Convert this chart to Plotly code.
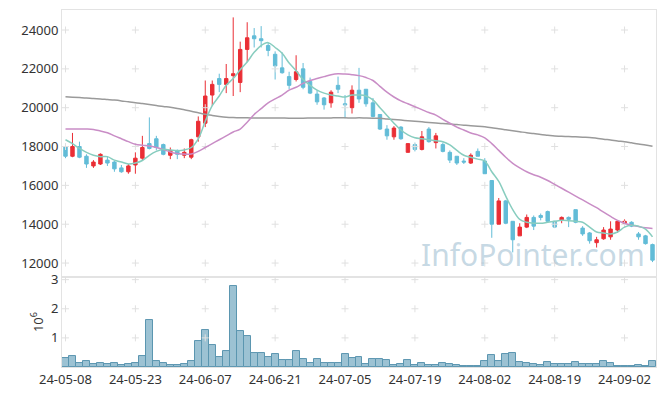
import plotly.graph_objects as go
from plotly.subplots import make_subplots

dates = [
    "2024-05-08", "2024-05-09", "2024-05-10", "2024-05-13", "2024-05-14", "2024-05-16", "2024-05-17",
    "2024-05-20", "2024-05-21", "2024-05-22", "2024-05-23", "2024-05-24", "2024-05-27", "2024-05-28",
    "2024-05-29", "2024-05-30", "2024-05-31", "2024-06-03", "2024-06-04", "2024-06-05", "2024-06-07",
    "2024-06-10", "2024-06-11", "2024-06-12", "2024-06-13", "2024-06-14", "2024-06-17", "2024-06-18",
    "2024-06-19", "2024-06-20", "2024-06-21", "2024-06-24", "2024-06-25", "2024-06-26", "2024-06-27",
    "2024-06-28", "2024-07-01", "2024-07-02", "2024-07-03", "2024-07-04", "2024-07-05", "2024-07-08",
    "2024-07-09", "2024-07-10", "2024-07-11", "2024-07-12", "2024-07-15", "2024-07-16", "2024-07-17",
    "2024-07-18", "2024-07-19", "2024-07-22", "2024-07-23", "2024-07-24", "2024-07-25", "2024-07-26",
    "2024-07-29", "2024-07-30", "2024-07-31", "2024-08-01", "2024-08-02", "2024-08-05", "2024-08-06",
    "2024-08-07", "2024-08-08", "2024-08-09", "2024-08-12", "2024-08-13", "2024-08-14", "2024-08-16",
    "2024-08-19", "2024-08-20", "2024-08-21", "2024-08-22", "2024-08-23", "2024-08-26", "2024-08-27",
    "2024-08-28", "2024-08-29", "2024-08-30", "2024-09-02", "2024-09-03", "2024-09-04", "2024-09-05",
    "2024-09-06",
]

open_ = [18000, 17500, 18000, 17500, 17000, 17100, 17300, 17200, 16900, 16700,
         17050, 17400, 18150, 18400, 18100, 17550, 17800, 17550, 17450, 18500,
         19200, 20650, 21500, 21200, 21650, 21300, 23000, 23700, 23550, 23200,
         22750, 22050, 21600, 21450, 22000, 21350, 20700, 20500, 20250, 21150,
         20200, 20000, 20900, 20950, 20250, 19650, 18900, 18500, 19000, 17700,
         18100, 17850, 18900, 18200, 18100, 17700, 17500, 17250, 17150, 17750,
         17250, 16250, 14000, 15200, 14150, 13400, 13850, 14350, 14450, 14650,
         14150, 14200, 14350, 14750, 13800, 13550, 13050, 13250, 13350, 13700,
         14050, 14100, 13500, 13400, 12950]
high = [18150, 18700, 18250, 17600, 17300, 17650, 17500, 17250, 17050, 17100,
        17700, 18550, 19500, 18550, 18150, 17950, 17850, 17900, 18400, 19550,
        21400, 21400, 21750, 22250, 24650, 23400, 24400, 24100, 24200, 23350,
        22900, 22850, 21850, 22700, 22300, 21550, 20900, 20550, 20900, 21600,
        20650, 21150, 22050, 20950, 20500, 19650, 19100, 19050, 19050, 18150,
        18200, 18800, 19000, 18700, 18200, 17800, 17500, 17400, 17650, 17900,
        17400, 16250, 15350, 15250, 14150, 14050, 14500, 14450, 14550, 14700,
        14150, 14400, 14400, 14750, 13900, 13600, 13350, 13850, 14150, 14200,
        14250, 14150, 13600, 13450, 13000]
low = [17400, 17450, 17400, 16900, 16900, 17050, 17000, 16700, 16650, 16600,
       16600, 17300, 17850, 17800, 17550, 17350, 17350, 17400, 17350, 18250,
       19000, 20100, 20800, 20750, 20600, 20800, 22350, 23100, 23100, 22650,
       21450, 21750, 20950, 21350, 20950, 20700, 20150, 19900, 20000, 20750,
       19450, 19700, 20250, 20050, 19500, 18850, 18350, 18350, 18350, 17700,
       17750, 17800, 18200, 17900, 17700, 17150, 17050, 17100, 17100, 17500,
       16600, 13300, 14000, 14000, 12550, 13400, 13800, 13700, 14200, 14100,
       13800, 14050, 13850, 14050, 13400, 13000, 12800, 13200, 13200, 13550,
       14000, 13850, 13200, 12950, 12050]
close = [17500, 18000, 17450, 17100, 17200, 17600, 17150, 16850, 16700, 17000,
         17400, 17950, 17900, 17950, 17600, 17800, 17600, 17700, 18350, 19300,
         20600, 21200, 21200, 21500, 21750, 23000, 23600, 23550, 23450, 22950,
         22150, 21800, 21150, 21850, 21050, 20750, 20300, 20150, 20800, 20950,
         20150, 20900, 20450, 20200, 19550, 18900, 18550, 18950, 18400, 18150,
         17850, 18500, 18250, 18550, 17750, 17300, 17150, 17200, 17550, 17500,
         16600, 14000, 15200, 14050, 13200, 13850, 14350, 13900, 14350, 14150,
         13850, 14350, 14250, 14100, 13500, 13150, 13200, 13700, 13750, 14150,
         14150, 13900, 13350, 13000, 12150]

ma5 = [18350, 18150, 17900, 17700, 17550, 17480, 17480, 17300, 17200, 17100,
       17150, 17280, 17550, 17750, 17860, 17820, 17780, 17820, 17950, 18400,
       19300, 20100, 20600, 21150, 21500, 21950, 22350, 22850, 23200, 23350,
       23100, 22800, 22300, 21900, 21450, 21150, 20900, 20750, 20650, 20600,
       20550, 20650, 20650, 20600, 20400, 20000, 19600, 19200, 18850, 18600,
       18450, 18400, 18350, 18300, 18250, 18080, 17800, 17550, 17450, 17350,
       17250, 16700, 16200, 15450, 14750, 14250, 14100, 14050, 14050, 14100,
       14150, 14200, 14180, 14150, 14100, 13850, 13600, 13550, 13500, 13600,
       13850, 13950, 13900, 13750, 13350]
ma20 = [18900, 18900, 18900, 18900, 18880, 18800, 18710, 18550, 18400, 18250,
        18120, 18070, 18030, 17950, 17850, 17720, 17640, 17610, 17620, 17750,
        17950, 18150, 18350, 18550, 18750, 18900, 19250, 19650, 19950, 20250,
        20450, 20650, 20900, 21050, 21250, 21400, 21500, 21600, 21700, 21750,
        21730, 21700, 21650, 21550, 21400, 21100, 20800, 20550, 20350, 20200,
        20050, 19900, 19750, 19620, 19400, 19200, 19000, 18850, 18700, 18600,
        18450, 18150, 17800, 17450, 17130, 16900, 16700, 16550, 16420, 16250,
        16050, 15850, 15650, 15450, 15250, 15050, 14850, 14620, 14400, 14200,
        14050, 13950, 13880, 13820, 13780]
ma120 = [20560, 20540, 20520, 20500, 20470, 20450, 20420, 20390, 20350, 20300,
         20260, 20210, 20160, 20110, 20060, 20020, 19960, 19890, 19820, 19740,
         19660, 19600, 19550, 19510, 19490, 19480, 19480, 19470, 19470, 19470,
         19470, 19465, 19460, 19460, 19460, 19465, 19470, 19470, 19475, 19480,
         19480, 19470, 19480, 19470, 19460, 19450, 19420, 19390, 19360, 19330,
         19300, 19270, 19240, 19210, 19180, 19160, 19130, 19100, 19070, 19050,
         19020, 18970, 18910, 18860, 18810, 18760, 18710, 18670, 18620, 18580,
         18540, 18530, 18510, 18500, 18480, 18470, 18430, 18380, 18340, 18290,
         18250, 18190, 18130, 18080, 18020]

volume = [300000, 370000, 150000, 190000, 110000, 150000, 110000, 150000, 80000, 110000,
          150000, 370000, 1600000, 190000, 150000, 80000, 60000, 110000, 220000, 880000,
          1260000, 740000, 330000, 560000, 2770000, 1220000, 1050000, 470000, 490000, 330000,
          460000, 230000, 230000, 560000, 260000, 130000, 260000, 150000, 150000, 150000,
          460000, 300000, 330000, 110000, 290000, 290000, 250000, 80000, 110000, 250000,
          60000, 150000, 80000, 80000, 150000, 110000, 80000, 50000, 50000, 50000,
          220000, 420000, 220000, 460000, 490000, 180000, 150000, 110000, 80000, 180000,
          110000, 110000, 110000, 180000, 110000, 110000, 110000, 220000, 150000, 50000,
          50000, 50000, 80000, 50000, 220000]

price_ticks = [12000, 14000, 16000, 18000, 20000, 22000, 24000]
vol_ticks = [1, 2, 3]
date_ticks = dates[::10]
date_tick_text = [d[2:] for d in date_ticks]

RED = "#ea2e35"
BLUE = "#62bcd7"
FRAME = "#e3e3e3"
FONT = "Noto Sans"
TXT = "#333333"

fig = make_subplots(rows=2, cols=1, shared_xaxes=True, vertical_spacing=0,
                    row_heights=[0.748, 0.252])

fig.add_trace(go.Candlestick(
    x=dates, open=open_, high=high, low=low, close=close,
    increasing=dict(line=dict(color=RED, width=1), fillcolor=RED),
    decreasing=dict(line=dict(color=BLUE, width=1), fillcolor=BLUE),
    whiskerwidth=0, showlegend=False), row=1, col=1)

fig.add_trace(go.Bar(x=dates, y=[v / 1e6 for v in volume], showlegend=False,
                     marker=dict(color="#9cc2d3", line=dict(color="#5b96b0", width=1))),
              row=2, col=1)

# grid "+" marks at tick intersections
gx, gy = [], []
for d in date_ticks:
    for p in price_ticks:
        gx.append(d); gy.append(p)
fig.add_trace(go.Scatter(x=gx, y=gy, mode="markers", hoverinfo="skip", showlegend=False,
                         marker=dict(symbol="cross-thin", size=5,
                                     line=dict(color="#e0e0e0", width=1))), row=1, col=1)
vx, vy = [], []
for d in date_ticks:
    for v in vol_ticks:
        vx.append(d); vy.append(v)
fig.add_trace(go.Scatter(x=vx, y=vy, mode="markers", hoverinfo="skip", showlegend=False,
                         marker=dict(symbol="cross-thin", size=5,
                                     line=dict(color="#e0e0e0", width=1))), row=2, col=1)

fig.add_trace(go.Scatter(x=dates, y=ma120, mode="lines", showlegend=False,
                         line=dict(color="#9a9a9a", width=1.5, shape="spline")), row=1, col=1)
fig.add_trace(go.Scatter(x=dates, y=ma20, mode="lines", showlegend=False,
                         line=dict(color="#c98dc6", width=1.5, shape="spline")), row=1, col=1)
fig.add_trace(go.Scatter(x=dates, y=ma5, mode="lines", showlegend=False,
                         line=dict(color="#88cdbf", width=1.5, shape="spline")), row=1, col=1)

# the page body adds an 8px margin, so the figure is sized to fit inside it
fig.update_layout(
    width=649, height=380,
    margin=dict(l=54, r=1, t=2, b=21, autoexpand=False),
    paper_bgcolor="white", plot_bgcolor="white",
    font=dict(family=FONT, size=13, color=TXT),
    bargap=0, boxgap=0.3,
    showlegend=False,
)
fig.update_xaxes(type="category", categoryorder="array", categoryarray=dates,
                 range=[-0.5, 84.5], showgrid=False, zeroline=False, automargin=False,
                 showline=True, mirror=True, linecolor=FRAME, linewidth=1,
                 rangeslider_visible=False, ticks="")
fig.update_xaxes(showticklabels=False, row=1, col=1)
fig.update_xaxes(tickmode="array", tickvals=date_ticks, ticktext=date_tick_text, tickangle=0,
                 tickfont=dict(size=13, color=TXT), row=2, col=1)
fig.update_yaxes(range=[11280, 25030], tickmode="array", tickvals=price_ticks, tickformat="d",
                 showgrid=False, zeroline=False, showline=True, mirror=True, automargin=False,
                 linecolor=FRAME, ticks="", tickfont=dict(size=13, color=TXT),
                 row=1, col=1)
fig.update_yaxes(range=[0, 3.09], tickmode="array", tickvals=vol_ticks,
                 showgrid=False, zeroline=False, showline=True, mirror=True, automargin=False,
                 linecolor=FRAME, ticks="", tickfont=dict(size=13, color=TXT),
                 title=dict(text="10<sup>6</sup>", font=dict(size=13, color=TXT), standoff=4),
                 row=2, col=1)

fig.add_annotation(text="InfoPointer.com", xref="paper", yref="paper",
                   x=0.985, y=0.315, xanchor="right", yanchor="middle", showarrow=False,
                   font=dict(family=FONT, size=30, color="rgba(150,185,205,0.55)"))

fig.write_html("out.html")
